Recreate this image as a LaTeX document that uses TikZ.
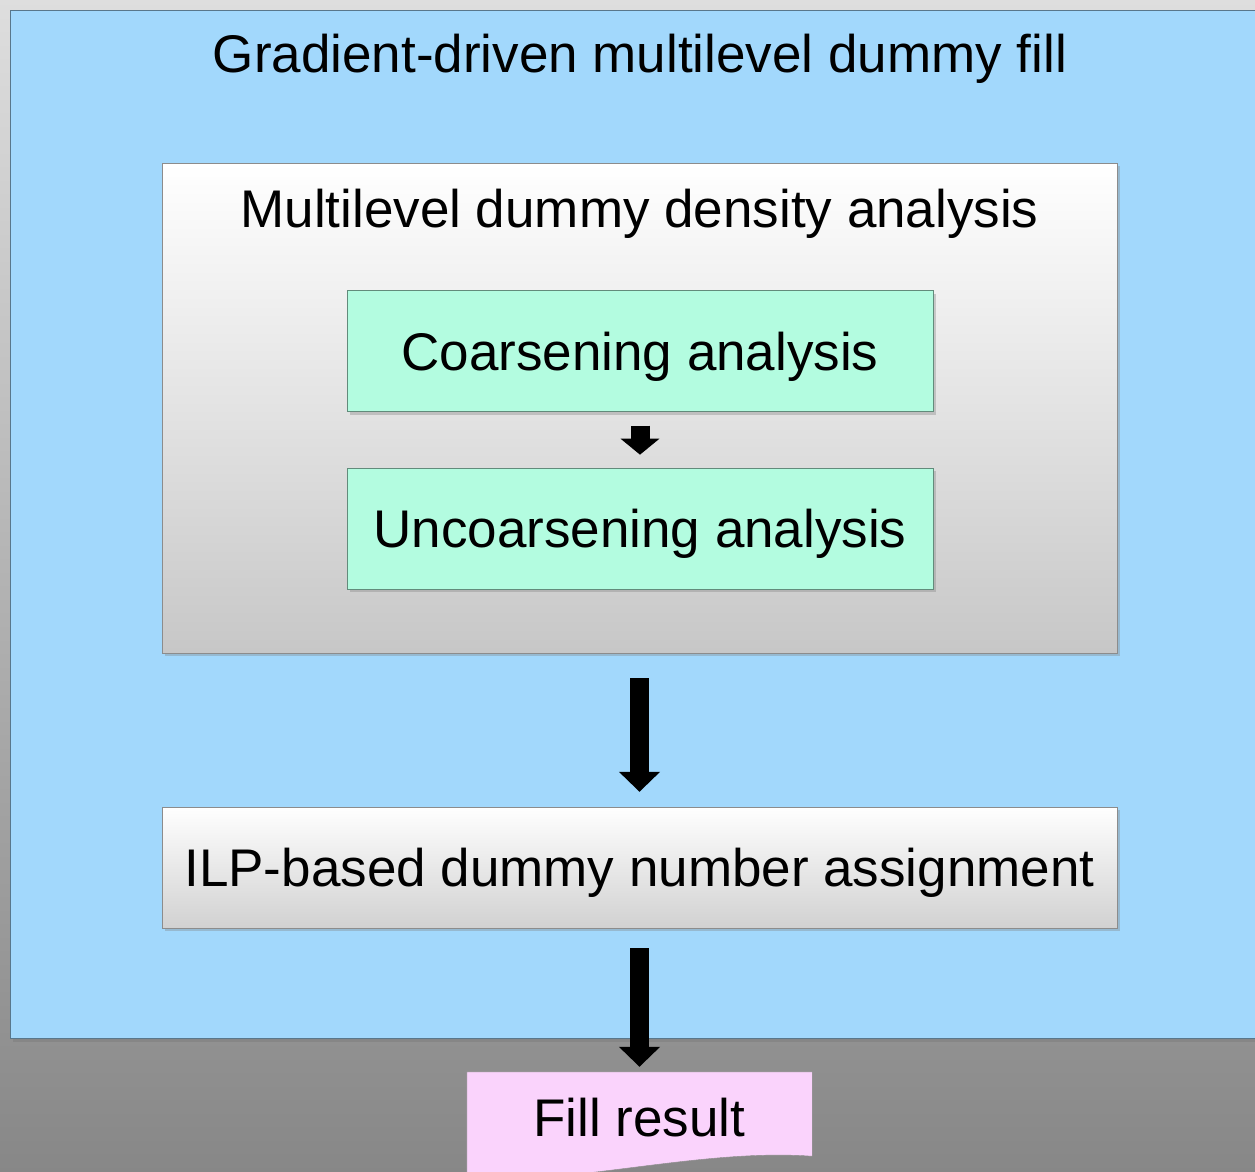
\documentclass[tikz,border=0pt]{standalone}
\usepackage{fontspec}
\setmainfont{Liberation Sans}
\usetikzlibrary{positioning, arrows.meta, shadows, backgrounds}

\definecolor{skyfill}{RGB}{162,216,252}
\definecolor{mintfill}{RGB}{179,252,224}
\definecolor{pinkfill}{RGB}{250,211,252}
\newcommand{\boxfont}{\fontsize{53}{60}\selectfont}

\tikzstyle{skybox} = [rectangle, minimum width=1255pt, minimum height=1028pt, inner sep=0pt,
draw=skyfill!55!black, fill=skyfill, drop shadow={shadow xshift=3pt, shadow yshift=-4pt, opacity=0.6}]
\tikzstyle{panel} = [rectangle, minimum width=955pt, inner sep=0pt, draw=black!45, text height=38pt, text depth=0pt,
top color=white, bottom color=black!22, drop shadow={shadow xshift=3pt, shadow yshift=-3pt, opacity=0.35}]
\tikzstyle{stage} = [rectangle, minimum width=586pt, minimum height=121pt, inner sep=0pt, text height=38pt, text depth=0pt,
draw=mintfill!55!black, fill=mintfill, font=\boxfont, drop shadow={shadow xshift=3pt, shadow yshift=-3pt, opacity=0.35}]
\tikzstyle{caption} = [inner sep=0pt, text height=38pt, text depth=0pt, font=\boxfont]
\tikzstyle{result} = [rectangle, minimum width=345pt, minimum height=90pt, inner sep=0pt, text height=38pt, text depth=0pt, font=\boxfont]
\tikzstyle{blockarrow} = [line width=19pt, -{Triangle[width=40pt, length=20pt]}]

\begin{document}
\begin{tikzpicture}[x=1pt, y=-1pt]
\useasboundingbox (0,0) rectangle (1255,1172);

% ------------------------- backdrop -------------------------
\begin{pgfonlayer}{background}
\shade[top color=black!13, bottom color=black!47] (0,0) rectangle (1255,1172);
\end{pgfonlayer}

% ------------------------- nodes -------------------------

% ----- node: frame
\node(frame)[skybox] at (637.5,524) {};
\node(title)[caption] at (640,54) {Gradient-driven multilevel dummy fill};
% ----- node: density analysis
\node(density)[panel, minimum height=490pt] at (639.5,408) {};
\node(densitytitle)[caption, below=26pt of density.north] {Multilevel dummy density analysis};
% ----- node: coarsening
\node(coarse)[stage] at (640,351) {Coarsening analysis};
\node(uncoarse)[stage, below=56pt of coarse] {Uncoarsening analysis};
% ----- node: ILP
\node(ilp)[panel, minimum height=121pt, bottom color=black!18, font=\boxfont] at (639.5,867.5) {ILP-based dummy number assignment};
% ----- node: result
\node(fillres)[result] at (639.5,1117) {Fill result};
\begin{pgfonlayer}{background}
\fill[pinkfill, draw=black!45] (fillres.north west) -- (fillres.north east)
  -- ([yshift=6pt]fillres.south east)
  .. controls ([xshift=-110pt, yshift=14pt]fillres.south east) and ([xshift=110pt, yshift=-22pt]fillres.south west)
  .. ([yshift=-17pt]fillres.south west) -- cycle;
\end{pgfonlayer}

% ------------------------- connections -------------------------
\draw[blockarrow, -{Triangle[width=38pt, length=16pt]}, line width=19pt, shorten <=14pt, shorten >=13pt](coarse)--(uncoarse);
\draw[blockarrow, shorten <=25pt, shorten >=15pt](density)--(ilp);
\draw[blockarrow, shorten <=20pt, shorten >=5pt](ilp)--(fillres);

\end{tikzpicture}
\end{document}
